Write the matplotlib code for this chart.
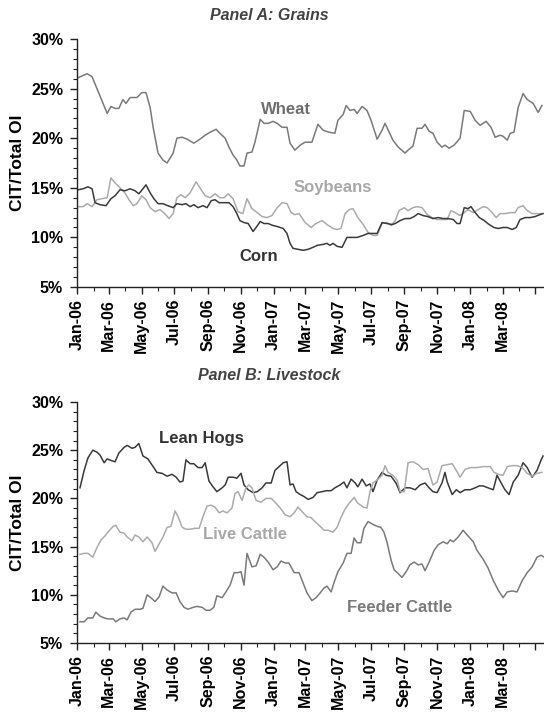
import numpy as np
import pandas as pd
import matplotlib
matplotlib.use('Agg')
import matplotlib.pyplot as plt
import matplotlib.dates as mdates
from matplotlib.ticker import MultipleLocator, FuncFormatter

plt.rcParams['font.family'] = ['Liberation Sans', 'DejaVu Sans']

START = pd.Timestamp('2006-01-01')
END = pd.Timestamp('2008-05-17')
LAST_LABEL = pd.Timestamp('2008-03-31')

# weeks since 1 Jan 2006, CIT share of total open interest (%)
wheat_wk = [0.3, 2.7, 4.0, 5.3, 6.6, 8.0, 9.0, 10.1, 11.1, 12.2, 13.0, 14.1, 15.9, 17.2, 18.3, 19.4, 20.2, 21.5,
            22.8, 23.9, 25.5, 26.5, 27.9, 29.2, 31.0, 32.6, 34.0, 35.3, 36.9, 37.9, 39.3, 40.3, 41.4, 42.4, 43.2,
            44.3, 45.1, 46.4, 47.2, 48.6, 49.6, 50.7, 52.0, 53.1, 54.4, 55.7, 56.5, 57.8, 59.2, 60.5, 62.3, 63.9,
            65.3, 66.9, 68.4, 69.2, 70.6, 71.4, 72.4, 73.5, 74.3, 75.6, 76.9, 78.0, 79.6, 80.9, 81.7, 82.8, 83.8,
            85.2, 87.0, 87.8, 89.1, 90.2, 91.5, 92.3, 93.4, 94.4, 95.5, 96.8, 97.6, 98.7, 100.0, 101.6, 102.7,
            104.3, 105.6, 106.9, 108.5, 109.8, 110.9, 112.2, 113.0, 114.1, 114.9, 115.9, 117.0, 118.3, 119.4,
            121.0, 122.3, 123.3]
wheat = [26.1, 26.5, 26.2, 25.0, 23.8, 22.5, 23.2, 23.0, 23.0, 23.9, 23.5, 24.1, 24.1, 24.6, 24.6, 23.1, 21.1, 18.5,
         17.8, 17.5, 18.5, 20.0, 20.1, 19.9, 19.5, 19.9, 20.3, 20.6, 20.9, 20.5, 20.0, 19.1, 18.3, 17.8, 17.2,
         17.2, 18.5, 18.6, 19.6, 21.9, 21.5, 21.5, 21.7, 21.5, 21.1, 21.1, 19.5, 18.8, 19.3, 19.6, 19.6, 21.4,
         20.8, 20.6, 20.5, 21.8, 22.4, 23.3, 22.8, 22.9, 22.5, 23.2, 22.8, 21.8, 19.9, 20.8, 21.5, 20.6, 19.8,
         19.1, 18.5, 18.8, 19.2, 21.0, 21.0, 21.4, 20.7, 20.5, 19.6, 19.1, 19.3, 19.0, 19.3, 20.0, 22.8,
         22.7, 21.8, 21.3, 21.7, 21.1, 20.1, 20.3, 20.2, 19.8, 20.5, 20.6, 23.1, 24.5, 23.9,
         23.5, 22.6, 23.3]

soy_wk = [0.3, 1.6, 2.7, 4.0, 5.3, 6.6, 8.0, 9.0, 10.1, 11.4, 12.7, 13.8, 14.9, 15.9, 17.2, 18.3, 19.4, 20.7, 22.0,
          23.3, 24.4, 25.5, 26.5, 27.6, 28.7, 30.0, 31.6, 32.6, 34.0, 35.3, 36.6, 37.9, 39.0, 40.1, 41.4, 42.7,
          44.0, 45.1, 46.4, 47.8, 49.1, 50.4, 51.7, 53.1, 54.4, 55.7, 56.8, 57.8, 58.9, 60.5, 62.1, 63.4, 65.0,
          66.3, 67.9, 69.0, 70.0, 71.1, 72.2, 73.2, 74.5, 75.9, 77.2, 78.5, 79.6, 80.9, 82.2, 83.3, 84.4, 85.4,
          86.8, 87.8, 89.1, 90.2, 91.5, 92.9, 94.2, 95.5, 96.8, 98.2, 99.2, 100.3, 101.6, 102.7, 103.7, 105.1,
          106.4, 107.7, 108.8, 110.1, 111.2, 112.2, 113.5, 114.9, 116.2, 117.0, 118.3, 119.4, 120.7, 122.0, 123.3]
soybeans = [13.1, 13.1, 13.4, 13.1, 13.8, 13.9, 14.0, 16.0, 15.5, 15.0, 14.5, 13.8, 13.2, 13.4, 14.2, 13.8, 13.0, 12.6,
            12.8, 12.4, 11.9, 12.4, 14.0, 14.3, 14.0, 14.5, 15.6, 15.0, 14.2, 14.0, 14.4, 14.0, 14.0, 14.4, 13.9,
            12.6, 12.4, 13.9, 12.9, 12.5, 12.1, 12.0, 12.2, 13.0, 13.5, 13.4, 12.5, 12.3, 12.4, 11.5, 11.0, 11.4,
            11.7, 11.3, 10.9, 10.8, 10.9, 12.4, 12.8, 12.9, 12.0, 11.3, 10.5, 10.2, 10.2, 11.4, 11.5, 11.2, 11.7,
            12.7, 13.0, 12.7, 13.0, 13.1, 13.0, 12.3, 12.0, 11.8, 11.8, 11.8, 12.7, 12.5, 12.2, 12.5, 12.8, 12.5,
            12.8, 13.1, 13.0, 12.5, 12.0, 12.4, 12.4, 12.5, 12.5, 13.0, 13.2, 12.7, 12.4, 12.4, 12.4]

corn_wk = [0.3, 1.6, 2.9, 4.0, 4.8, 6.1, 7.7, 9.0, 10.1, 11.4, 12.7, 14.1, 15.4, 16.4, 17.5, 18.3, 19.4, 20.4, 21.5,
           22.8, 24.1, 25.5, 26.5, 27.9, 28.9, 30.0, 31.0, 32.1, 33.4, 34.5, 35.6, 36.6, 37.7, 39.0, 40.3, 41.4,
           42.4, 43.2, 44.3, 45.4, 46.7, 47.5, 48.6, 49.6, 50.7, 52.0, 53.1, 54.7, 55.7, 56.5, 57.3, 58.6, 60.0,
           61.3, 62.6, 63.7, 65.3, 66.3, 67.1, 67.9, 69.0, 70.3, 71.6, 73.0, 74.3, 75.9, 77.2, 78.5, 79.6, 80.9,
           82.2, 83.6, 84.4, 85.7, 87.0, 88.3, 89.4, 90.5, 91.8, 93.1, 94.4, 95.8, 97.1, 98.4, 99.8, 100.8, 101.6,
           102.7, 103.7, 104.5, 105.6, 106.7, 108.0, 109.3, 110.6, 111.7, 113.0, 114.1, 115.4, 116.5, 117.5,
           118.9, 120.2, 121.5, 122.8, 123.6]
corn = [14.8, 14.9, 15.1, 14.9, 13.5, 13.3, 13.2, 13.9, 14.2, 14.8, 14.7, 14.9, 14.7, 14.4, 14.9, 15.3, 14.5, 13.9, 13.4,
        13.4, 13.2, 13.0, 13.4, 13.3, 13.4, 13.1, 13.3, 13.0, 13.2, 13.0, 13.7, 13.8, 13.5, 13.5, 13.5, 13.1,
        12.4, 11.7, 11.5, 11.4, 10.6, 11.0, 11.6, 11.4, 11.4, 11.2, 11.1, 10.9, 10.4, 9.4, 8.9, 8.8, 8.7,
        8.8, 9.0, 9.2, 9.3, 9.4, 9.2, 9.4, 9.1, 9.0, 10.0, 10.0, 10.0, 10.2, 10.4, 10.4, 10.4, 11.5,
        11.4, 11.3, 11.4, 11.7, 11.9, 11.9, 12.1, 12.4, 12.2, 12.1, 11.9, 12.0, 11.9, 11.9, 11.8, 11.4, 11.4,
        13.0, 12.9, 13.1, 12.5, 12.0, 11.7, 11.3, 11.0, 10.9, 11.0, 11.0, 10.8, 11.0, 11.8,
        12.0, 12.0, 12.1, 12.3, 12.4]

hogs_wk = [0.8, 1.9, 2.9, 4.2, 5.3, 6.1, 7.2, 8.0, 9.3, 10.1, 11.1, 12.5, 13.3, 14.6, 15.4, 16.4, 17.5, 18.8, 20.2,
           21.2, 22.6, 23.9, 25.2, 26.3, 27.3, 28.1, 28.9, 30.0, 31.0, 32.1, 33.2, 34.0, 35.0, 36.1, 37.1, 38.5,
           39.3, 40.1, 41.4, 42.4, 43.5, 44.3, 45.4, 46.7, 47.8, 49.1, 50.1, 51.5, 52.5, 53.6, 54.7, 55.7, 56.5,
           57.3, 58.1, 59.2, 60.2, 61.3, 62.6, 63.7, 65.0, 66.1, 67.4, 68.4, 69.8, 70.8, 71.6, 72.7, 73.8, 74.5,
           75.6, 76.7, 77.7, 78.5, 79.6, 80.9, 82.0, 83.3, 84.6, 85.7, 87.0, 88.3, 89.7, 91.0, 92.3, 93.4, 94.4,
           95.5, 96.8, 97.6, 98.2, 99.5, 100.6, 101.6, 102.9, 104.3, 105.6, 106.7, 107.7, 109.0, 110.4, 111.4,
           112.5, 113.5, 114.6, 115.7, 117.0, 118.3, 119.4, 120.7, 122.0, 123.1, 123.6]
lean_hogs = [21.1, 22.9, 24.2, 25.0, 24.8, 24.5, 23.7, 24.1, 23.9, 23.8, 24.7, 25.3, 25.5, 25.2, 25.3, 25.7, 24.4, 24.1,
             23.3, 22.7, 22.6, 22.3, 22.5, 22.2, 21.7, 21.8, 24.0, 23.6, 23.6, 23.2, 23.2, 23.7, 21.8, 21.2, 20.7,
             21.1, 21.4, 22.2, 22.2, 22.1, 22.6, 21.4, 20.9, 20.6, 20.7, 21.1, 21.6, 21.6, 22.9, 23.3, 23.7, 23.8,
             21.4, 21.5, 20.7, 20.4, 20.2, 19.9, 20.1, 20.6, 20.7, 20.8, 20.8, 21.1, 21.4, 21.7, 21.1, 22.0, 21.6,
             21.2, 22.0, 21.3, 21.5, 20.7, 21.9, 22.7, 22.4, 22.3, 21.6, 20.6, 21.1, 21.1, 20.9, 21.4, 21.6, 21.1,
             20.7, 20.6, 21.6, 22.7, 21.7, 20.4, 20.9, 20.6, 20.9, 20.9, 21.1, 21.3, 21.3, 21.1, 20.9, 22.4,
             21.6, 20.9, 20.4, 21.7, 22.4, 23.7, 23.2, 22.2, 22.9, 24.0, 24.4]

live_wk = [0.8, 1.9, 2.9, 4.2, 5.3, 6.4, 7.4, 8.2, 9.6, 10.3, 11.4, 12.5, 13.3, 14.6, 15.4, 16.4, 17.5, 18.6, 19.9,
           20.7, 21.8, 22.8, 23.9, 24.9, 26.0, 26.8, 27.9, 28.9, 30.0, 31.3, 32.4, 33.4, 34.5, 35.6, 36.6, 37.7,
           38.7, 39.8, 41.1, 41.9, 42.7, 43.8, 44.8, 45.6, 46.4, 47.5, 48.8, 50.1, 51.5, 52.8, 54.1, 55.2, 56.5,
           57.6, 58.6, 60.0, 61.0, 62.1, 63.1, 64.5, 65.5, 66.6, 67.9, 69.0, 70.0, 71.1, 72.2, 73.5, 74.5, 75.9,
           76.9, 77.7, 78.5, 79.6, 80.9, 81.7, 82.5, 83.8, 84.9, 85.7, 86.8, 87.8, 89.1, 90.5, 91.8, 93.1, 94.4,
           95.5, 96.8, 98.2, 99.5, 100.6, 101.6, 102.9, 104.3, 106.1, 107.7, 109.6, 110.6, 111.7, 113.0, 114.1,
           115.4, 116.7, 118.1, 119.4, 120.7, 122.0, 123.3]
live_cattle = [14.2, 14.3, 14.3, 13.9, 14.9, 15.7, 16.1, 16.5, 17.1, 17.2, 16.5, 16.4, 16.0, 15.6, 16.2, 16.0, 15.5,
               16.0, 15.4, 14.5, 15.3, 16.0, 17.0, 17.1, 18.7, 18.1, 17.0, 16.8, 16.8, 16.9, 16.9, 18.1, 19.2,
               19.3, 19.1, 18.5, 18.7, 18.5, 19.0, 20.5, 20.7, 19.8, 21.1, 21.4, 21.1, 19.8, 19.6, 20.0, 20.0,
               19.5, 18.9, 18.3, 18.1, 18.5, 19.1, 18.5, 18.1, 18.0, 17.6, 17.1, 16.7, 16.7, 16.5, 17.0, 18.0,
               18.9, 19.5, 20.1, 19.5, 19.1, 19.0, 20.7, 21.6, 21.9, 22.4, 23.4, 22.7, 22.4, 21.9, 20.7, 20.7,
               23.7, 23.8, 23.5, 23.0, 23.1, 21.4, 21.7, 23.4, 23.5, 23.6, 22.9, 22.2, 23.0, 23.2, 23.2, 23.3,
               23.3, 22.7, 22.5, 22.4, 23.3, 23.4, 23.4, 23.2, 22.6, 22.3, 22.6, 22.7]

feeder_wk = [0.8, 1.9, 2.9, 4.2, 5.0, 6.1, 7.2, 8.2, 9.6, 10.3, 11.4, 12.5, 13.3, 14.3, 15.4, 16.7, 17.5, 18.6, 19.6,
             20.7, 21.8, 22.8, 23.9, 25.2, 26.3, 27.3, 28.4, 29.4, 30.8, 31.8, 33.2, 34.2, 35.3, 36.3, 37.1, 38.5,
             39.5, 40.6, 41.7, 42.7, 43.5, 44.3, 45.1, 46.4, 47.5, 48.6, 49.6, 50.7, 52.0, 53.1, 54.1, 55.2, 56.2,
             57.6, 58.9, 60.0, 61.0, 62.3, 63.4, 64.5, 65.5, 66.3, 67.4, 68.2, 69.2, 70.6, 71.6, 72.7, 73.5, 74.3,
             75.3, 76.1, 77.2, 78.5, 79.6, 80.6, 81.4, 82.2, 83.3, 84.1, 85.2, 86.2, 87.3, 88.3, 89.4, 90.5, 91.5,
             92.3, 93.4, 94.7, 95.8, 97.1, 98.2, 99.0, 99.8, 101.1, 102.4, 103.5, 105.1, 106.1, 107.7, 109.0,
             110.4, 111.7, 113.0, 114.1, 115.4, 116.7, 118.1, 119.4, 120.7, 122.0, 123.1, 123.9]
feeder_cattle = [7.2, 7.2, 7.6, 7.6, 8.2, 7.8, 7.6, 7.5, 7.5, 7.2, 7.5, 7.6, 7.4, 8.2, 8.5, 8.5, 8.6, 10.0, 9.7,
                 9.3, 9.8, 10.9, 10.5, 10.2, 10.2, 9.3, 8.7, 8.5, 8.7, 8.8, 8.7, 8.4, 8.4, 8.7, 9.9, 9.7,
                 10.3, 11.0, 12.3, 12.3, 12.4, 11.0, 14.3, 12.9, 13.0, 14.2, 13.9, 13.4, 12.6, 12.9, 13.5, 13.3, 13.3,
                 12.3, 12.3, 11.2, 10.2, 9.4, 9.7, 10.2, 10.7, 10.9, 10.3, 11.3, 12.4, 13.3, 14.3, 14.3, 15.9, 15.4,
                 15.4, 16.9, 17.6, 17.3, 17.1, 17.0, 16.5, 15.5, 13.6, 12.6, 12.2, 11.8, 12.4, 13.1, 13.4, 13.1, 13.2,
                 12.5, 13.4, 14.6, 15.2, 15.5, 15.3, 15.7, 15.5, 16.0, 16.7, 16.2, 15.5, 14.6, 13.7, 12.8,
                 11.5, 10.5, 9.7, 10.3, 10.4, 10.3, 11.5, 12.3, 12.9, 13.9, 14.1, 13.9]


def to_dates(wk):
    return START + pd.to_timedelta(np.array(wk) * 7, unit='D')


def month_label(v, pos):
    d = mdates.num2date(v).replace(tzinfo=None)
    if d > LAST_LABEL:
        return ''
    return d.strftime('%b-%y')


def setup_axes(ax):
    ax.set_xlim(START, END)
    ax.set_ylim(5, 30)
    ax.yaxis.set_major_locator(MultipleLocator(5))
    ax.yaxis.set_minor_locator(MultipleLocator(1))
    ax.yaxis.set_major_formatter(FuncFormatter(lambda v, p: f'{v:.0f}%'))
    ax.xaxis.set_major_locator(mdates.MonthLocator(bymonth=[1, 3, 5, 7, 9, 11]))
    ax.xaxis.set_minor_locator(mdates.MonthLocator())
    ax.xaxis.set_major_formatter(FuncFormatter(month_label))
    for s in ['top', 'right']:
        ax.spines[s].set_visible(False)
    for s in ['left', 'bottom']:
        ax.spines[s].set_color('#222222')
        ax.spines[s].set_linewidth(1.0)
    ax.tick_params(axis='both', which='major', length=5, width=1.0, color='#222222', labelsize=11.5)
    ax.tick_params(axis='y', which='major', pad=5)
    ax.tick_params(axis='x', which='major', pad=3.5)
    ax.tick_params(axis='both', which='minor', length=3, width=0.8, color='#222222')
    for lab in ax.get_xticklabels():
        lab.set_rotation(90)
        lab.set_fontweight('bold')
    for lab in ax.get_yticklabels():
        lab.set_fontweight('bold')
    ax.set_ylabel('CIT/Total OI', fontsize=12.5, fontweight='bold', labelpad=4)


fig = plt.figure(figsize=(5.44, 7.17), dpi=100)
axA = fig.add_axes([0.1415, 0.5997, 0.8585, 0.3459])
axB = fig.add_axes([0.1415, 0.1032, 0.8585, 0.3361])

dark, mid, light = '#3a3a3a', '#7a7a7a', '#ababab'

axA.plot(to_dates(wheat_wk), wheat, color=mid, lw=1.1)
axA.plot(to_dates(soy_wk), soybeans, color=light, lw=1.1)
axA.plot(to_dates(corn_wk), corn, color=dark, lw=1.1)
setup_axes(axA)
lab_kw = dict(fontsize=12, fontweight='bold', ha='center', va='center')
axA.text(to_dates([55.4])[0], 22.9, 'Wheat', color='#6e6e6e', **lab_kw)
axA.text(to_dates([67.9])[0], 15.05, 'Soybeans', color='#a8a8a8', **lab_kw)
axA.text(to_dates([48.3])[0], 8.1, 'Corn', color='#333333', **lab_kw)

axB.plot(to_dates(hogs_wk), lean_hogs, color=dark, lw=1.1)
axB.plot(to_dates(live_wk), live_cattle, color=light, lw=1.1)
axB.plot(to_dates(feeder_wk), feeder_cattle, color=mid, lw=1.1)
setup_axes(axB)
axB.text(to_dates([32.9])[0], 26.2, 'Lean Hogs', color='#333333', **lab_kw)
axB.text(to_dates([44.6])[0], 16.3, 'Live Cattle', color='#a8a8a8', **lab_kw)
axB.text(to_dates([85.7])[0], 8.7, 'Feeder Cattle', color='#7a7a7a', **lab_kw)

title_kw = dict(fontsize=11.5, fontweight='bold', fontstyle='italic', color='#444444', ha='center', va='center')
fig.text(269 / 544, 1 - 15 / 717, 'Panel A: Grains', **title_kw)
fig.text(269 / 544, 1 - 375 / 717, 'Panel B: Livestock', **title_kw)

fig.savefig('out.png', dpi=100)
